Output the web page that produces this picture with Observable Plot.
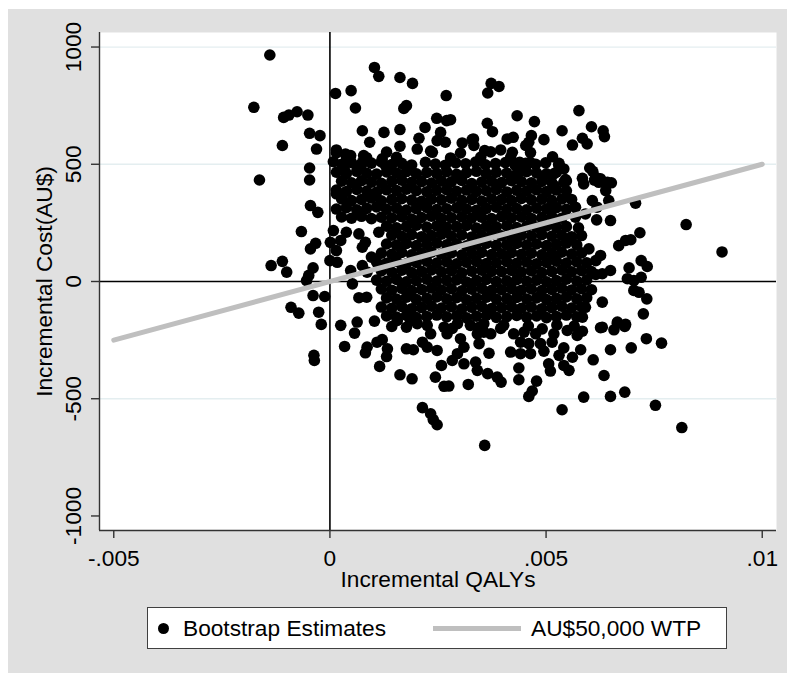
<!DOCTYPE html>
<html><head><meta charset="utf-8">
<script src="https://cdn.jsdelivr.net/npm/d3@7"></script>
<script src="https://cdn.jsdelivr.net/npm/@observablehq/plot@0.6"></script>
<style>
body{margin:0;background:#fff;}
#fig{position:relative;width:787px;height:673px;background:#fff;overflow:hidden;font-family:"Liberation Sans",Arial,sans-serif;color:#000;}
#panel{position:absolute;left:8px;top:9px;width:779px;height:664px;background:#e0e0e0;}
#chart{position:absolute;left:0;top:0;}
#legend{position:absolute;left:147px;top:607px;width:578px;height:40px;background:#fff;border:1px solid #404040;}
#legend .dot{position:absolute;left:9.5px;top:14.5px;width:11px;height:11px;border-radius:50%;background:#000;}
#legend .lab{position:absolute;top:0;line-height:40px;font-size:22.7px;white-space:nowrap;}
#legend .ln{position:absolute;left:285px;top:17.5px;width:88px;height:5px;background:#bfbfbf;}
</style>
</head><body>
<div id="fig"><div id="panel"></div><div id="chart"></div>
<div id="legend"><div class="dot"></div><div class="lab" style="left:35px">Bootstrap Estimates</div><div class="ln"></div><div class="lab" style="left:383px">AU$50,000 WTP</div></div>
</div>
<script>
const xTicks = [-0.005, 0, 0.005, 0.01];
const xTickLabels = ["-.005", "0", ".005", ".01"];
const yTicks = [-1000, -500, 0, 500, 1000];
const yTickLabels = ["-1000", "-500", "0", "500", "1000"];
const gridCosts = [1000, 500, -500];
const xTitle = "Incremental QALYs";
const yTitle = "Incremental Cost(AU$)";
const wtpQaly = [-0.005, 0.01];
const wtpCost = [-250, 500];
// bootstrap replicates: [incremental QALY, incremental cost]
const bootstrapPoints = [
[-0.00139,966],[-0.00176,743],[-0.00107,700],[-0.00095,710],[-0.00076,724],[-0.00051,710],[-0.00047,632],[-0.00023,622],[-0.0011,580],[-0.00031,565],[-0.00047,484],[-0.00047,433],[-0.00163,433],
[0.00013,802],[0.00049,814],[0.00059,740],[0.00103,913],[0.00113,875],[0.00162,870],[0.00191,845],[0.00269,793],[0.00171,738],[0.00177,750],[0.00247,696],[0.0027,686],[0.00279,690],[0.0022,657],[0.00075,643],[0.00125,636],[0.00162,648],[0.00092,594],[0.00206,611],[0.00256,636],[0.00248,601],[0.00267,594],[0.00162,577],[0.00202,565],[0.00306,591],[0.00329,605],[0.00237,551],[0.00015,561],[0.00036,544],[0.00048,537],[0.00008,511],[0.00034,473],[0.00078,537],[0.00075,508],[0.00121,523],[0.00129,494],
[0.00373,845],[0.00391,832],[0.00365,804],[0.00433,707],[0.00473,682],[0.00576,729],[0.00364,675],[0.00376,639],[0.00537,643],[0.00605,660],[0.00632,643],[0.00635,618],[0.0041,608],[0.00424,615],[0.00466,622],[0.0046,594],[0.00453,580],[0.00495,605],[0.00561,582],[0.00584,611],[0.00595,587],[0.00332,608],[0.00333,580],[0.00395,561],[0.00422,551],[0.00358,558],[0.00463,508],[0.00439,508],[0.00441,473],[0.0053,504],[0.00541,480],[0.00518,459],[0.00601,484],[0.00584,440],[0.00615,444],[0.00626,438],[0.00651,421],[0.00545,435],[0.00642,423],[0.00638,388],
[0.00824,243],[0.00907,126],[0.00707,334],[0.00649,260],[0.00617,263],[0.00717,208],[0.00668,153],[0.00684,175],[0.00696,178],[0.0072,89],[0.00734,64],[0.00692,58],[0.00649,47],[0.0063,33],[0.00615,30],[0.0072,18],[0.00703,4],[0.00688,12],[0.00599,139],[0.00626,111],[0.00615,89],[0.00733,-74],[0.00725,-138],[0.00703,-38],[0.00715,-46],[0.0063,-88],[0.00591,-110],[0.00584,-152],[0.00665,-173],[0.00684,-183],[0.0063,-195],[0.00645,345],[0.00607,345],[0.00618,317],[0.00568,317],[0.00591,288],[0.00537,352],[0.00518,409],[0.00541,423],[0.00587,416],[0.00622,423],
[-0.00045,324],[-0.00028,295],[-0.00066,213],[-0.00033,163],[-0.00045,139],[-0.00136,68],[-0.0011,86],[-0.001,40],[-0.00039,58],[-0.00049,26],[-0.00054,4],[-0.00039,-60],[-0.00012,-64],[-0.0009,-110],[-0.00072,-135],[-0.00026,-131],[-0.0002,-183],[-0.00037,-315],[-0.00036,-337],
[0.00015,374],[0.00008,217],[0.00001,167],[0.00015,132],[0.00025,175],[0,89],[0.00017,82],[0.00038,210],[0.00067,203],[0.00082,167],[0.00075,146],[0.00096,104],[0.00113,210],[0.00048,47],[0.00052,-10],[0.00075,68],[0.00086,40],[0.00067,-69],[0.00085,-67],[0.00025,-187],[0.00063,-173],[0.00103,-169],
[0.00057,-220],[0.00034,-277],[0.00086,-280],[0.00082,-304],[0.00109,-259],[0.00121,-248],[0.00133,-287],[0.00131,-320],[0.00115,-362],[0.00177,-287],[0.00193,-291],[0.00162,-398],[0.0019,-415],[0.00214,-259],[0.00225,-280],[0.00248,-294],[0.00244,-408],[0.00264,-447],[0.00275,-446],[0.0032,-439],[0.00258,-358],[0.00283,-337],[0.00295,-308],[0.0031,-351],[0.00337,-344],[0.00341,-379],[0.00233,-223],[0.00271,-223],[0.00302,-244],[0.0031,-280],[0.00345,-265],[0.00341,-223],[0.00214,-538],[0.00233,-564],[0.00239,-589],[0.00248,-611],[0.00358,-699],[0.00156,-166],[0.00186,-166],[0.00202,-180],[0.00225,-187],[0.00264,-195],[0.00295,-180],[0.00325,-187],
[0.00537,-547],[0.00587,-493],[0.00649,-490],[0.00682,-472],[0.00753,-528],[0.00814,-623],[0.00634,-401],[0.00609,-334],[0.00649,-291],[0.00697,-283],[0.00732,-244],[0.00767,-263],[0.00626,-197],[0.00657,-206],[0.00682,-192],[0.00665,-178],[0.0046,-490],[0.00468,-467],[0.00478,-425],[0.00437,-419],[0.00437,-369],[0.00396,-429],[0.00387,-408],[0.00365,-393],[0.00368,-306],[0.00506,-351],[0.0051,-382],[0.00553,-379],[0.00541,-358],[0.00561,-323],[0.00541,-283],[0.0058,-291],[0.0053,-315],[0.00418,-301],[0.00441,-308],[0.00464,-308],[0.00495,-297],[0.00425,-223],[0.00449,-216],[0.00476,-223],[0.00491,-202],[0.00518,-223],[0.00549,-209],[0.00572,-230],[0.00584,-212],[0.00356,-216],[0.00372,-223],[0.00345,-195],[0.00402,-187],[0.00441,-259],[0.0046,-265],[0.00487,-265],[0.00514,-259],
[0.00015,549],[0.00038,532],[0.00085,528],[0.00131,552],[0.00154,530],[0.00233,556],[0.00279,527],[0.00302,548],[0.00349,531],[0.00372,553],[0.00418,529],[0.00464,550],[0.00515,532],
[0.00027,500],[0.0005,507],[0.00073,498],[0.00096,505],[0.00119,510],[0.00143,499],[0.00166,504],[0.00189,497],[0.00221,508],[0.00244,501],[0.00267,496],[0.00291,506],[0.00314,502],[0.00337,509],[0.0036,498],[0.00383,503],[0.00406,507],[0.00429,495],[0.00453,504],[0.00476,500],[0.00499,506],[0.00529,498],
[0.00015,466],[0.00038,460],[0.00062,470],[0.00085,462],[0.00108,458],[0.00131,467],[0.00154,463],[0.00177,469],[0.002,459],[0.00224,465],[0.00247,461],[0.0027,468],[0.00293,457],[0.00316,464],[0.00339,470],[0.00362,460],[0.00385,466],[0.00409,462],[0.00432,458],[0.00455,468],[0.00478,463],[0.00501,459],[0.00524,466],[0.00608,470],
[0.00027,428],[0.0005,421],[0.00073,430],[0.00096,424],[0.00119,419],[0.00143,427],[0.00166,432],[0.00189,423],[0.00212,426],[0.00235,420],[0.00258,429],[0.00281,425],[0.00305,431],[0.00328,418],[0.00351,424],[0.00374,428],[0.00397,422],[0.0042,430],[0.00443,426],[0.00466,421],[0.0049,427],[0.00513,423],[0.00547,429],[0.00612,432],
[0.00015,390],[0.00038,384],[0.00062,393],[0.00085,386],[0.00108,381],[0.00131,391],[0.00154,388],[0.00177,394],[0.002,387],[0.00224,383],[0.00247,389],[0.0027,392],[0.00293,385],[0.00316,390],[0.00339,384],[0.00362,387],[0.00385,393],[0.00409,382],[0.00432,389],[0.00455,386],[0.00478,391],[0.00501,384],[0.00524,390],[0.00547,387],
[0.00027,352],[0.0005,345],[0.00073,350],[0.00096,356],[0.00119,344],[0.00143,349],[0.00166,353],[0.00189,347],[0.00212,342],[0.00235,351],[0.00258,348],[0.00281,355],[0.00305,346],[0.00328,350],[0.00351,343],[0.00374,352],[0.00397,349],[0.0042,345],[0.00443,354],[0.00466,348],[0.0049,351],[0.00513,346],[0.00559,350],
[0.00015,309],[0.00038,315],[0.00062,306],[0.00085,312],[0.00108,318],[0.00131,308],[0.00154,313],[0.00177,305],[0.002,311],[0.00224,316],[0.00247,307],[0.0027,310],[0.00293,314],[0.00316,309],[0.00339,304],[0.00362,312],[0.00385,317],[0.00409,308],[0.00432,311],[0.00455,306],[0.00478,313],[0.00501,310],[0.00524,315],[0.00547,308],
[0.00027,275],[0.0005,270],[0.00073,278],[0.00096,268],[0.00119,274],[0.00143,271],[0.00166,277],[0.00189,266],[0.00212,273],[0.00235,279],[0.00258,269],[0.00281,272],[0.00305,276],[0.00328,270],[0.00351,274],[0.00374,268],[0.00397,277],[0.0042,271],[0.00443,275],[0.00466,269],[0.0049,273],[0.00513,278],[0.00536,270],[0.00568,274],
[0.00131,236],[0.00154,229],[0.00177,235],[0.002,240],[0.00224,232],[0.00247,237],[0.0027,231],[0.00293,234],[0.00316,239],[0.00339,228],[0.00362,236],[0.00385,233],[0.00409,238],[0.00432,230],[0.00455,235],[0.00478,232],[0.00501,237],[0.00524,231],[0.00547,234],[0.00575,229],
[0.00143,198],[0.00166,193],[0.00189,200],[0.00212,191],[0.00235,196],[0.00258,202],[0.00281,194],[0.00305,199],[0.00328,190],[0.00351,197],[0.00374,201],[0.00397,195],[0.0042,192],[0.00443,198],[0.00466,194],[0.0049,200],[0.00513,193],[0.00536,197],[0.00559,191],[0.00582,196],
[0.00131,160],[0.00154,155],[0.00177,162],[0.002,153],[0.00224,158],[0.00247,164],[0.0027,156],[0.00293,161],[0.00316,152],[0.00339,159],[0.00362,163],[0.00385,154],[0.00409,157],[0.00432,162],[0.00455,155],[0.00478,160],[0.00501,153],[0.00524,158],[0.00547,164],[0.00571,156],
[0.00119,121],[0.00143,116],[0.00166,124],[0.00189,114],[0.00212,119],[0.00235,125],[0.00258,117],[0.00281,122],[0.00305,113],[0.00328,120],[0.00351,124],[0.00374,115],[0.00397,118],[0.0042,123],[0.00443,116],[0.00466,121],[0.0049,114],[0.00513,119],[0.00536,125],[0.00559,117],[0.00582,122],
[0.00108,83],[0.00131,78],[0.00154,86],[0.00177,76],[0.002,81],[0.00224,87],[0.00247,79],[0.0027,84],[0.00293,75],[0.00316,82],[0.00339,86],[0.00362,77],[0.00385,80],[0.00409,85],[0.00432,78],[0.00455,83],[0.00478,76],[0.00501,81],[0.00524,87],[0.00547,79],[0.00571,84],[0.00594,80],
[0.00119,45],[0.00143,40],[0.00166,48],[0.00189,38],[0.00212,43],[0.00235,49],[0.00258,41],[0.00281,46],[0.00305,37],[0.00328,44],[0.00351,48],[0.00374,43],[0.00397,42],[0.0042,47],[0.00443,40],[0.00466,45],[0.0049,38],[0.00513,43],[0.00536,49],[0.00559,41],[0.00582,46],[0.00605,42],
[0.00108,6],[0.00131,1],[0.00154,9],[0.00177,-1],[0.002,4],[0.00224,10],[0.00247,2],[0.0027,5],[0.00293,7],[0.00316,-2],[0.00339,5],[0.00362,9],[0.00385,0],[0.00409,3],[0.00432,8],[0.00455,1],[0.00478,6],[0.00501,-1],[0.00524,4],[0.00547,10],[0.00571,2],[0.00594,7],
[0.00119,-32],[0.00143,-37],[0.00166,-29],[0.00189,-39],[0.00212,-34],[0.00235,-28],[0.00258,-36],[0.00281,-31],[0.00305,-40],[0.00328,-33],[0.00351,-29],[0.00374,-38],[0.00397,-35],[0.0042,-30],[0.00443,-37],[0.00466,-32],[0.0049,-39],[0.00513,-34],[0.00536,-28],[0.00559,-36],[0.00582,-31],[0.00605,-35],
[0.00131,-70],[0.00154,-75],[0.00177,-67],[0.002,-77],[0.00224,-72],[0.00247,-66],[0.0027,-74],[0.00293,-69],[0.00316,-78],[0.00339,-71],[0.00362,-67],[0.00385,-76],[0.00409,-73],[0.00432,-68],[0.00455,-75],[0.00478,-70],[0.00501,-77],[0.00524,-72],[0.00547,-66],[0.00571,-74],[0.00594,-69],
[0.00119,-109],[0.00143,-114],[0.00166,-106],[0.00189,-116],[0.00212,-111],[0.00235,-105],[0.00258,-113],[0.00281,-108],[0.00305,-117],[0.00328,-110],[0.00351,-106],[0.00374,-115],[0.00397,-112],[0.0042,-107],[0.00443,-114],[0.00466,-109],[0.0049,-116],[0.00513,-111],[0.00536,-105],[0.00559,-113],[0.00582,-108],
[0.00131,-147],[0.00154,-152],[0.00177,-144],[0.002,-154],[0.00224,-149],[0.00247,-143],[0.0027,-151],[0.00293,-146],[0.00316,-155],[0.00339,-148],[0.00362,-144],[0.00385,-153],[0.00409,-150],[0.00432,-145],[0.00455,-152],[0.00478,-147],[0.00501,-154],[0.00524,-149],[0.00547,-143],[0.00571,-151],
[0.00143,-192],[0.00177,-195],[0.00283,-200],[0.00356,-180],[0.00395,-200],[0.00459,-190],[0.00525,-185],[0.00565,-190]
];

const xDomain = [-0.00533, 0.01033];
const yDomain = [-1062, 1062];
const font = '"Liberation Sans", Arial, sans-serif';
const fs = 22.7;
const wtpLine = wtpQaly.map((q, i) => ({q, c: wtpCost[i]}));

const chart = Plot.plot({
  width: 787, height: 600,
  marginLeft: 99, marginRight: 11, marginTop: 32, marginBottom: 70,
  x: {domain: xDomain, axis: null, label: null},
  y: {domain: yDomain, axis: null, label: null},
  style: {background: "transparent", fontFamily: font, fontSize: fs + "px", color: "#000"},
  marks: [
    Plot.frame({fill: "white", stroke: "none"}),
    Plot.ruleY(gridCosts, {stroke: "#e4eef0", strokeWidth: 1.3}),
    Plot.ruleX([0], {stroke: "#000", strokeWidth: 1.6}),
    Plot.ruleY([0], {stroke: "#000", strokeWidth: 1.6}),
    Plot.dot(bootstrapPoints, {x: d => d[0], y: d => d[1], r: 5.8, fill: "#000", stroke: "none"}),
    Plot.line(wtpLine, {x: "q", y: "c", stroke: "#bfbfbf", strokeWidth: 5, strokeLinecap: "round"}),
    Plot.ruleX([xDomain[0]], {stroke: "#333", strokeWidth: 1.4}),
    Plot.ruleY([yDomain[0]], {stroke: "#333", strokeWidth: 1.4}),
    Plot.axisX({ticks: xTicks, tickSize: 8, tickPadding: 11, stroke: "#333", strokeWidth: 1.4, label: null,
      tickFormat: d => xTickLabels[xTicks.indexOf(d)], fontSize: fs}),
    Plot.axisY({ticks: yTicks, tickSize: 8, stroke: "#333", strokeWidth: 1.4, label: null, tickFormat: () => ""}),
    Plot.text(yTicks, {y: d => d, text: (d, i) => yTickLabels[i], frameAnchor: "left", textAnchor: "middle", dx: -26, rotate: -90, fontSize: fs}),
    Plot.text([xTitle], {text: d => d, frameAnchor: "bottom", textAnchor: "middle", dy: 56, fontSize: fs}),
    Plot.text([yTitle], {text: d => d, frameAnchor: "left", textAnchor: "middle", dx: -55, rotate: -90, fontSize: fs})
  ]
});
document.getElementById("chart").appendChild(chart);
</script>
</body></html>
